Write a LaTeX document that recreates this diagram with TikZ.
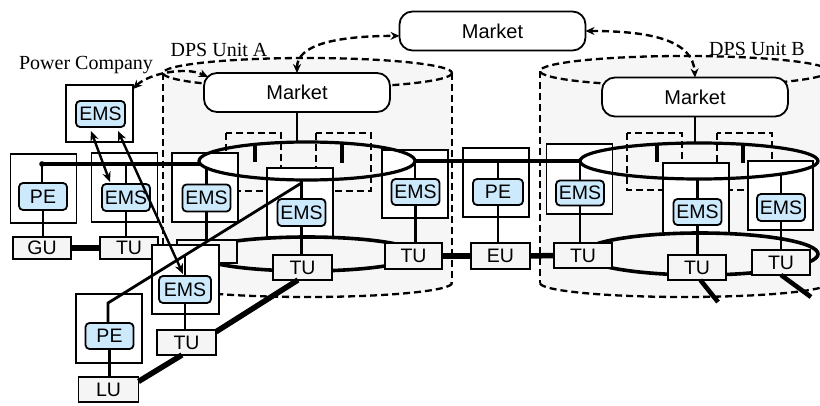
\documentclass[tikz,border=0pt]{standalone}
\usepackage{fontspec}
\setmainfont{Liberation Serif}
\setsansfont{Liberation Sans}
\usetikzlibrary{shapes.geometric,arrows.meta,calc}
\definecolor{emsblue}{HTML}{CDEAFD}
\definecolor{unitgray}{HTML}{F5F5F5}
\definecolor{cylgray}{HTML}{F6F6F6}
\begin{document}
\begin{tikzpicture}[x=1pt,y=-1pt,
  devbox/.style={draw, fill=white, line width=1.1pt, minimum width=66pt, minimum height=69pt, inner sep=0pt, outer sep=0pt},
  emsbox/.style={draw, fill=emsblue, line width=1.8pt, rounded corners=4pt, minimum width=48pt, minimum height=27pt, inner sep=0pt, outer sep=0pt, font=\sffamily\fontsize{19.5}{19.5}\selectfont},
  unitbox/.style={draw, fill=unitgray, line width=1.8pt, minimum width=58pt, minimum height=25pt, inner sep=0pt, outer sep=0pt, font=\sffamily\fontsize{19.5}{19.5}\selectfont},
  mkt/.style={draw, fill=white, line width=1.8pt, rounded corners=13pt, minimum width=186pt, minimum height=39pt, inner sep=0pt, outer sep=0pt, font=\sffamily\fontsize{20}{20}\selectfont},
  ring/.style={ellipse, draw, line width=3.2pt, inner sep=0pt, outer sep=0pt},
  lring/.style={ellipse, draw, line width=3.6pt, inner sep=0pt, outer sep=0pt},
  dashbox/.style={draw, dash pattern=on 7pt off 4pt, line width=2.3pt},
  cyl/.style={dash pattern=on 7pt off 4pt, line width=2.3pt},
  conn/.style={line width=2.8pt},
  tick/.style={line width=3.2pt},
  power/.style={line width=5.5pt},
  stub/.style={line width=4.6pt},
  lbl/.style={font=\rmfamily\fontsize{20}{20}\selectfont, inner sep=0pt},
  dblarrow/.style={line width=2.4pt, {Stealth[length=10pt,width=8.5pt]}-{Stealth[length=10pt,width=8.5pt]}},
  dasharrow/.style={line width=2.4pt, dash pattern=on 7pt off 4pt, {Stealth[length=9pt,width=8pt]}-{Stealth[length=9pt,width=8pt]}}
]
\fill[white] (0,0) rectangle (820,406);
\useasboundingbox (0,0) rectangle (820,406);

% ---- cylinder A
\fill[cylgray] (163,73) rectangle (452,283);
\fill[cylgray] (307.5,73) ellipse [x radius=144.5, y radius=15];
\fill[cylgray] (307.5,283) ellipse [x radius=144.5, y radius=14];
\draw[cyl] (307.5,73) ellipse [x radius=144.5, y radius=15];
\draw[cyl] (163,73) -- (163,283);
\draw[cyl] (452,73) -- (452,283);
\begin{scope}
  \clip (150,283) rectangle (470,310);
  \draw[cyl] (307.5,283) ellipse [x radius=144.5, y radius=14];
\end{scope}

% ---- cylinder B
\begin{scope}
  \clip (0,0) rectangle (820,406);
  \fill[cylgray] (540,71) rectangle (829,283);
  \fill[cylgray] (684.5,71) ellipse [x radius=144.5, y radius=15];
  \fill[cylgray] (684.5,283) ellipse [x radius=144.5, y radius=14];
  \draw[cyl] (684.5,71) ellipse [x radius=144.5, y radius=15];
  \draw[cyl] (540,71) -- (540,283);
  \begin{scope}
    \clip (530,283) rectangle (840,310);
    \draw[cyl] (684.5,283) ellipse [x radius=144.5, y radius=14];
  \end{scope}
\end{scope}

% ---- labels
\node[lbl] (lblA) at (219,50) {DPS Unit A};
\node[lbl] (lblPC) at (86,65) {Power Company};
\node[lbl] (lblB) at (757,49) {DPS Unit B};

% ---- markets
\node[mkt] (topM) at (492.5,31) {Market};
\node[mkt] (mA) at (297,92.5) {Market};
\node[mkt] (mB) at (695,97) {Market};
\draw[dasharrow] (mA.north) .. controls (297,45) and (335,36) .. (topM.183);
\draw[dasharrow] (topM.east) .. controls (650,31) and (693,40) .. (mB.north);

% ---- dashed boxes
\draw[dashbox] (226,133) rectangle (281,191);
\draw[dashbox] (316,133) rectangle (371,191);
\draw[dashbox] (627,133) rectangle (682,190);
\draw[dashbox] (717,133) rectangle (772,190);

% ---- device boxes
\node[devbox] (dPE1) at (43.5,188.5) {};
\node[devbox] (dE1) at (124.5,187.5) {};
\node[devbox] (dA1) at (205,187.5) {};
\node[devbox] (dA2) at (300,202.5) {};
\node[devbox, minimum height=68pt] (dA3) at (415,184) {};
\node[devbox] (dPE2) at (496,182.5) {};
\node[devbox, minimum height=70pt] (dB1) at (579.5,179) {};
\node[devbox, minimum height=70pt] (dB2) at (696,198) {};
\node[devbox, minimum width=65pt] (dB3) at (780.5,195.5) {};

\node[emsbox] (pe1) at (43,196.5) {PE};
\node[emsbox] (ems1) at (126,197.5) {EMS};
\node[emsbox] (emsA1) at (206.5,198) {EMS};
\node[emsbox] (emsA2) at (301.5,212.5) {EMS};
\node[emsbox, minimum height=26pt] (emsA3) at (415.5,192) {EMS};
\node[emsbox, minimum width=50pt, minimum height=26pt] (pe2) at (498,192) {PE};
\node[emsbox, minimum height=25pt] (emsB1) at (580,193) {EMS};
\node[emsbox, minimum height=26pt] (emsB2) at (697.5,212) {EMS};
\node[emsbox] (emsB3) at (781,207.5) {EMS};

% ---- upper rings
\node[ring, minimum width=216pt, minimum height=38pt] (rA) at (307,161) {};
\node[ring, minimum width=238pt, minimum height=36pt] (rB) at (699,161) {};

\coordinate (tA1) at (255,144);
\coordinate (tA2) at (342,143);
\coordinate (tB1) at (657,144);
\coordinate (tB2) at (743,144);
\draw[tick] (tA1) -- ++(0,18);
\draw[tick] (tA2) -- ++(0,20);
\draw[tick] (tB1) -- ++(0,18);
\draw[tick] (tB2) -- ++(0,19);

\draw[conn] (mA.south) -- (mA.south |- rA.north);
\draw[conn] (mB.south) -- (mB.south |- rB.north);

% bus
\coordinate (dot) at (42,164);
\coordinate (busA) at (200,164);
\draw[line width=3.2pt] (dot) -- (busA);
\draw[line width=3.2pt] (rA.east) -- (rB.west);
\fill (dot) circle [radius=2.8];

% vertical connectors
\coordinate (jA1) at (206.5,168);
\coordinate (jB3) at (781,174);
\draw[conn] (dot) -- (dot |- pe1.north);
\draw[conn] (ems1.north |- dot) -- (ems1.north);
\draw[conn] (jA1) -- (emsA1.north);
\draw[conn] (emsA2.north |- rA.south) -- (emsA2.north);
\draw[conn] (rA.east) -- (rA.east |- emsA3.north);
\draw[conn] (pe2.north |- rA.east) -- (pe2.north);
\draw[conn] (rB.west) -- (rB.west |- emsB1.north);
\draw[conn] (emsB2.north |- rB.south) -- (emsB2.north);
\draw[conn] (jB3) -- (emsB3.north);

% ---- lower rings
\node[lring, minimum width=220pt, minimum height=34pt] (lrA) at (307,254) {};
\node[lring, minimum width=236pt, minimum height=42pt] (lrB) at (700,254) {};

% ---- unit boxes
\node[unitbox, minimum height=22pt] (GU) at (42,248) {GU};
\node[unitbox, minimum height=22pt] (TU1) at (129,248) {TU};
\node[unitbox, minimum width=60pt, minimum height=23pt] (TUA1) at (207,251.5) {};
\node[unitbox, minimum width=59pt] (TUA2) at (302.5,267.5) {TU};
\node[unitbox, minimum width=57pt, minimum height=26pt] (TUA3) at (413.5,256) {TU};
\node[unitbox, minimum width=59pt, minimum height=26pt] (EU) at (500.5,256) {EU};
\node[unitbox] (TUB1) at (583,255.5) {TU};
\node[unitbox] (TUB2) at (697,267.5) {TU};
\node[unitbox] (TUB3) at (781,262.5) {TU};

\draw[conn] (pe1.south) -- (pe1.south |- GU.north);
\draw[conn] (ems1.south) -- (ems1.south |- TU1.north);
\draw[conn] (emsA1.south) -- (emsA1.south |- TUA1.north);
\draw[conn] (emsA2.south) -- (emsA2.south |- TUA2.north);
\draw[conn] (emsA3.south) -- (emsA3.south |- TUA3.north);
\draw[conn] (pe2.south) -- (pe2.south |- EU.north);
\draw[conn] (emsB1.south) -- (emsB1.south |- TUB1.north);
\draw[conn] (emsB2.south) -- (emsB2.south |- TUB2.north);
\draw[conn] (emsB3.south) -- (emsB3.south |- TUB3.north);

\draw[power] (GU.east) -- (TU1.west);
\draw[power] (TUA3.east) -- (EU.west);
\draw[power] (EU.east) -- (TUB1.west);

\coordinate (s1) at (718,302);
\coordinate (s2) at (811,297);
\draw[stub] (TUB2.-75) -- (s1);
\draw[stub] (TUB3.south) -- (s2);

% ---- lower-left branch
\node[devbox, minimum width=67pt] (dL1) at (185.5,279.5) {};
\node[devbox] (dPE3) at (109,328.5) {};
\node[emsbox, minimum width=52pt] (emsL) at (185,289.5) {EMS};
\node[emsbox, minimum height=26pt] (pe3) at (109.5,336) {PE};
\node[unitbox, minimum width=59pt] (TUL) at (186.5,342.5) {TU};
\node[unitbox, minimum width=60pt] (LU) at (108.5,389.5) {LU};
\draw[conn] (emsL.south) -- (emsL.south |- TUL.north);
\draw[conn] (pe3.south) -- (pe3.south |- LU.north);
\draw[power] (TUL.20) -- (TUA2.250);
\draw[power] (LU.15) -- (TUL.250);

\coordinate (d1) at (301.5,183);
\coordinate (d2) at (108,303);
\coordinate (j1) at (185,255.2);
\draw[conn] (d1) -- (d2) -- (d2 |- pe3.north);
\draw[conn] (j1) -- (emsL.north);

% ---- power company
\node[devbox, minimum width=67pt, minimum height=57pt] (dPC) at (99.5,113.5) {};
\node[emsbox, minimum width=49pt, minimum height=26pt] (emsPC) at (100.5,114) {EMS};
\draw[dasharrow] ($(dPC.north east)+(0,4)$) .. controls (148,74) and (185,66) .. ($(mA.north west)+(4,4)$);
\draw[dblarrow] ($(emsPC.south)+(-9.5,4)$) -- ($(ems1.north)+(-16,-2)$);
\draw[dblarrow] ($(emsPC.south)+(17.5,4)$) -- ($(emsL.north)+(-2,-2)$);
\end{tikzpicture}
\end{document}
